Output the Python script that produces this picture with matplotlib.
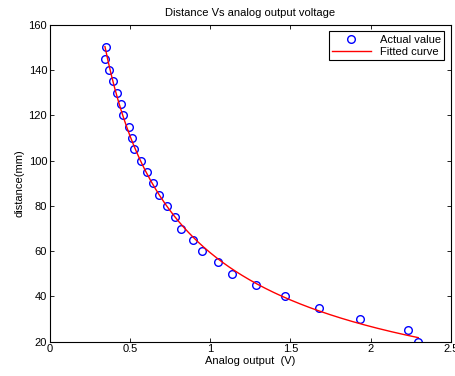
import matplotlib.pyplot as plt
import numpy as np

plt.rcParams['font.family'] = ['Liberation Sans', 'DejaVu Sans']
plt.rcParams['font.size'] = 8

# measured points: analog output (V) vs distance (mm)
voltage = [0.351, 0.343, 0.370, 0.390, 0.419, 0.446, 0.458, 0.492, 0.511, 0.523,
           0.568, 0.603, 0.643, 0.682, 0.729, 0.781, 0.820, 0.890, 0.948, 1.051,
           1.136, 1.285, 1.465, 1.675, 1.936, 2.235, 2.297]
distance = [150, 145, 140, 135, 130, 125, 120, 115, 110, 105,
            100, 95, 90, 85, 80, 75, 70, 65, 60, 55,
            50, 45, 40, 35, 30, 25, 20]

v = np.array(voltage)
d = np.array(distance)

# fit d = a * v^b + c  (scan b, least squares for a and c)
best = None
for b in np.linspace(-3, -0.2, 281):
    A = np.column_stack([v ** b, np.ones_like(v)])
    coef, res, _, _ = np.linalg.lstsq(A, d, rcond=None)
    err = np.sum((A @ coef - d) ** 2)
    if best is None or err < best[0]:
        best = (err, b, coef)
_, b, (a, c) = best
vfit = np.linspace(v.min(), v.max(), 200)
dfit = a * vfit ** b + c

fig = plt.figure(figsize=(4.56, 3.76), dpi=100)
ax = fig.add_axes([0.1096, 0.0912, 0.879, 0.843])

ax.plot(v, d, 'o', markerfacecolor='none', markeredgecolor='#0000ff',
        markersize=5.5, markeredgewidth=1.0, label='Actual value')
ax.plot(vfit, dfit, color='#ff0000', linewidth=1.0, label='Fitted curve')

ax.set_xlim(0, 2.5)
ax.set_ylim(20, 160)
ax.set_xticks([0, 0.5, 1, 1.5, 2, 2.5])
ax.set_xticklabels(['0', '0.5', '1', '1.5', '2', '2.5'])
ax.set_yticks(range(20, 161, 20))
ax.tick_params(direction='in', top=True, right=True, length=3, width=0.6, pad=2)
for s in ax.spines.values():
    s.set_linewidth(0.8)

ax.set_xlabel('Analog output  (V)', labelpad=1)
ax.set_ylabel('distance(mm)', labelpad=3)
ax.set_title('Distance Vs analog output voltage', fontsize=8, pad=6)

leg = ax.legend(loc='upper right', fancybox=False, framealpha=1, edgecolor='black',
                borderaxespad=0.6, handlelength=3.5, borderpad=0.3, labelspacing=0.2)
leg.get_frame().set_linewidth(0.8)

fig.savefig('out.png', dpi=100)
